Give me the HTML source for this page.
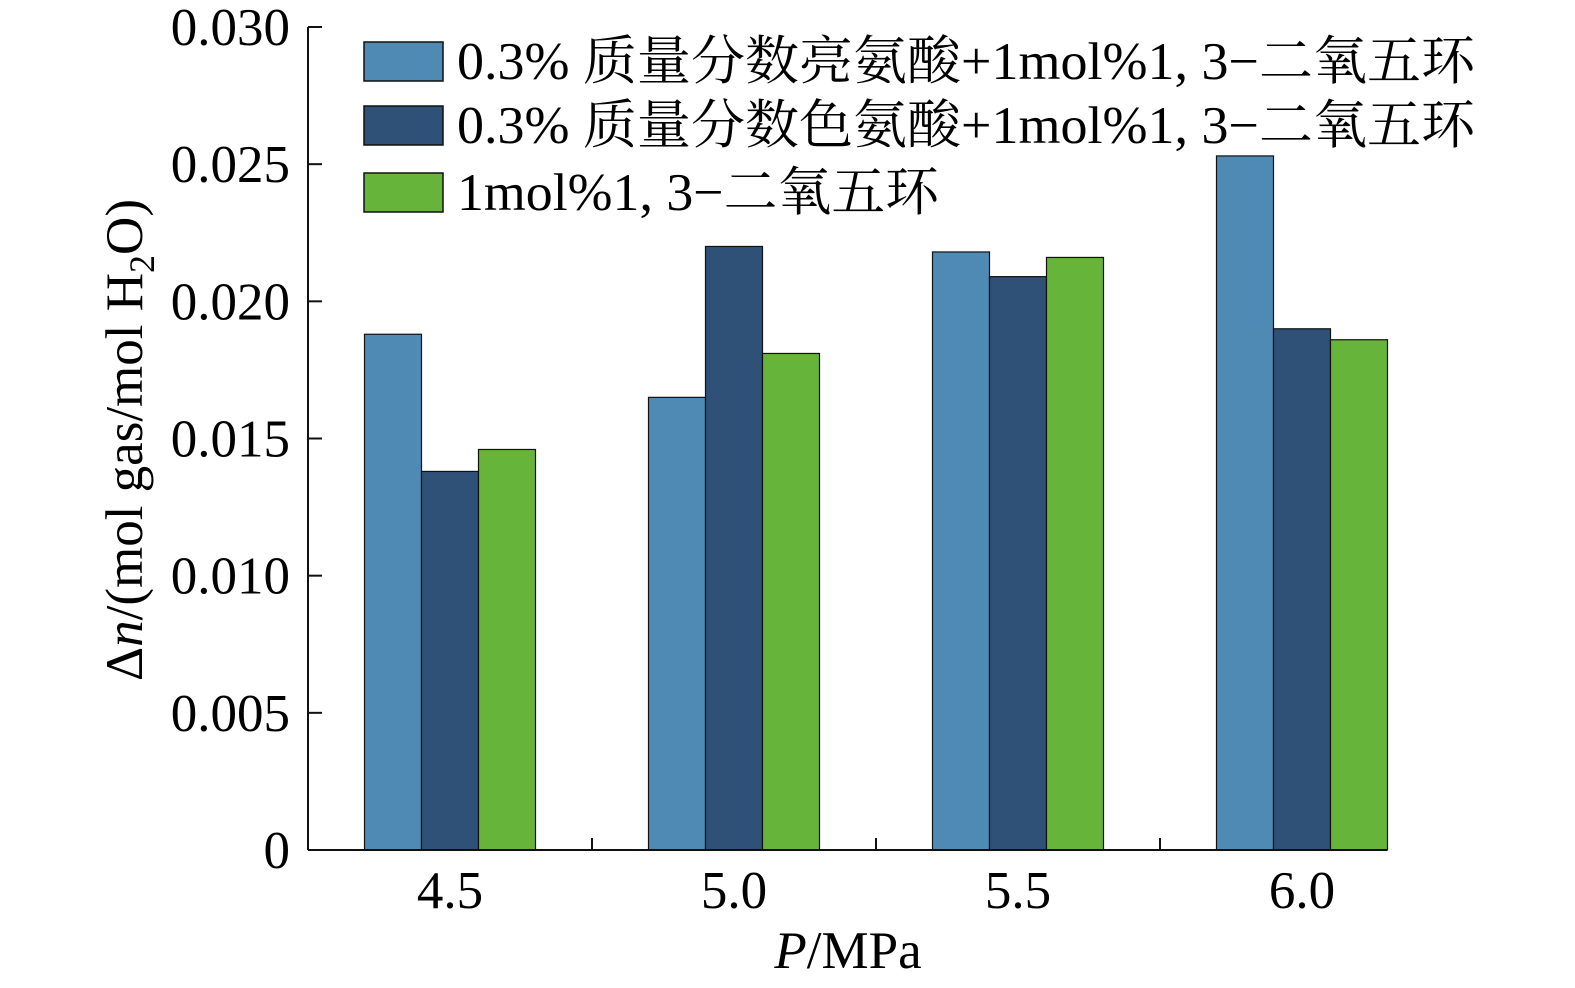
<!DOCTYPE html>
<html><head><meta charset="utf-8"><style>
html,body{margin:0;padding:0;background:#fff;}
svg{display:block;font-family:"Liberation Serif","Noto Serif CJK SC",serif;}
</style></head><body>
<svg id="chart" width="1575" height="988" viewBox="0 0 1575 988">
<g id="bars"></g>
<g id="axes"></g>
<g id="legend"></g>
<text x="0" y="0" transform="translate(142,440) rotate(-90)" text-anchor="middle" font-size="53">Δ<tspan font-style="italic">n</tspan>/(mol gas/mol H<tspan font-size="36" dy="12">2</tspan><tspan dy="-12">O)</tspan></text>
<text x="848" y="968" text-anchor="middle" font-size="53"><tspan font-style="italic">P</tspan>/MPa</text>
</svg>
<script>
const categories = ["4.5","5.0","5.5","6.0"];
const seriesLeucine = [0.0188,0.0165,0.0218,0.0253];
const seriesTryptophan = [0.0138,0.0220,0.0209,0.0190];
const seriesDioxolane = [0.0146,0.0181,0.0216,0.0186];
const yTicks = [0,0.005,0.010,0.015,0.020,0.025,0.030];
const yTickLabels = ["0","0.005","0.010","0.015","0.020","0.025","0.030"];
const seriesNames = ["0.3% 质量分数亮氨酸+1mol%1, 3−二氧五环","0.3% 质量分数色氨酸+1mol%1, 3−二氧五环","1mol%1, 3−二氧五环"];

const NS="http://www.w3.org/2000/svg";
const x0=308, y0=850, band=284, yMax=0.030, yTop=27, barW=57;
const colors=["#4f8ab5","#2f5077","#66b43a"];
const series=[seriesLeucine,seriesTryptophan,seriesDioxolane];
const yScale=v=>y0-(v/yMax)*(y0-yTop);
const xCenter=i=>x0+band*(i+0.5);
function mk(tag,attrs,parent){const e=document.createElementNS(NS,tag);for(const k in attrs)e.setAttribute(k,attrs[k]);parent.appendChild(e);return e;}
const bars=document.getElementById('bars'),axes=document.getElementById('axes'),legend=document.getElementById('legend');
series.forEach((s,si)=>{s.forEach((v,i)=>{
  const r=mk('rect',{x:xCenter(i)-1.5*barW+si*barW,y:yScale(v),width:barW,height:y0-yScale(v),fill:colors[si],stroke:"#111","stroke-width":1.2},bars);
  
  
});});
let l=mk('line',{x1:x0,y1:y0,x2:1387,y2:y0,stroke:"#111","stroke-width":2},axes);


l=mk('line',{x1:x0,y1:y0,x2:x0,y2:yTop,stroke:"#111","stroke-width":2},axes);


yTicks.forEach((t,i)=>{
  const y=yScale(t);
  const tk=mk('line',{x1:x0,y1:y,x2:x0+14,y2:y,stroke:"#111","stroke-width":2},axes);
  
  
  const tx=mk('text',{x:290,y:y+18,"text-anchor":"end","font-size":53},axes);
  tx.textContent=yTickLabels[i];
  
  
});
categories.forEach((c,i)=>{
  if(i>0){const tk=mk('line',{x1:x0+band*i,y1:y0,x2:x0+band*i,y2:y0-12,stroke:"#111","stroke-width":2},axes);
  
  }
  const tx=mk('text',{x:xCenter(i),y:908,"text-anchor":"middle","font-size":53},axes);
  tx.textContent=c;
  
  
});
const legY=[42,106,173];
seriesNames.forEach((n,i)=>{
  const r=mk('rect',{x:364,y:legY[i],width:79,height:39,fill:colors[i],stroke:"#111","stroke-width":1.5},legend);
  
  
  const t=mk('text',{x:457,y:legY[i]+37,"font-size":53,textLength:(i<2?1018:482),lengthAdjust:"spacingAndGlyphs"},legend);
  t.textContent=n;
  
  
});
</script>
</body></html>
